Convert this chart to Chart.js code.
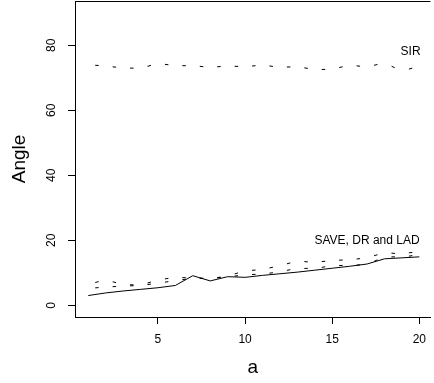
<!DOCTYPE html>
<html>
<head>
<meta charset="utf-8">
<script src="https://cdn.jsdelivr.net/npm/chart.js@4"></script>
<style>
  html, body { margin: 0; padding: 0; background: #ffffff; }
  #wrap { width: 434px; height: 383px; }
</style>
</head>
<body>
<div id="wrap"><canvas id="c" width="434" height="383"></canvas></div>
<script>
// ---- data ----
const xValues = [1,2,3,4,5,6,7,8,9,10,11,12,13,14,15,16,17,18,19,20];
const saveValues = [3.0,3.8,4.4,4.9,5.4,6.1,9.1,7.5,8.8,8.6,9.2,9.7,10.2,10.8,11.4,12.0,12.7,14.3,14.6,14.9];
const drValues   = [6.5,7.8,6.4,6.2,7.8,8.6,8.4,8.2,9.0,10.6,11.0,12.2,13.6,13.2,13.8,14.0,14.6,16.2,15.8,16.6];
const ladValues  = [5.2,5.6,5.9,6.1,6.8,7.6,8.3,8.3,8.7,9.4,9.6,10.3,11.4,11.3,12.2,12.3,12.5,15.0,14.8,15.6];
const sirValues  = [74.0,73.6,73.0,72.9,74.4,73.7,73.7,73.2,73.6,73.4,73.9,73.2,73.4,72.5,72.6,73.9,73.3,74.6,72.0,73.6];
const xTicks = [5,10,15,20];
const yTicks = [0,20,40,60,80];
const textLabels = ["SIR", "SAVE, DR and LAD"];
const textX = [19.5, 17];
const textY = [78, 20];

// ---- helpers ----
const DASH = 3.5;
function midOffset(ctx) {
  const L = Math.hypot(ctx.p1.x - ctx.p0.x, ctx.p1.y - ctx.p0.y);
  return -(L / 2 - DASH / 2) - ctx.p0DataIndex * 1e-4;
}
function toPts(arr) { return arr.map((v, i) => ({x: xValues[i], y: v})); }
function dashedSet(label, arr) {
  return {
    label, data: toPts(arr), borderColor: '#000', borderWidth: 1, pointRadius: 0,
    segment: { borderDash: () => [DASH, 2000], borderDashOffset: midOffset }
  };
}

const FONT = "'Liberation Sans', Arial, Helvetica, sans-serif";

const extras = {
  id: 'extras',
  afterDraw(chart) {
    const {ctx, chartArea, scales} = chart;
    ctx.save();
    // top line of the box
    ctx.strokeStyle = '#000';
    ctx.lineWidth = 1;
    ctx.beginPath();
    ctx.moveTo(chartArea.left, Math.round(chartArea.top) + 0.5);
    ctx.lineTo(chartArea.right, Math.round(chartArea.top) + 0.5);
    ctx.stroke();
    // y tick labels (rotated, R style)
    ctx.fillStyle = '#000';
    ctx.font = '12px ' + FONT;
    ctx.textAlign = 'center';
    ctx.textBaseline = 'middle';
    yTicks.forEach(v => {
      const y = scales.y.getPixelForValue(v);
      ctx.save();
      ctx.translate(52, y);
      ctx.rotate(-Math.PI / 2);
      ctx.fillText(String(v), 0, 0);
      ctx.restore();
    });
    // in-plot text labels
    textLabels.forEach((t, i) => {
      ctx.fillText(t, scales.x.getPixelForValue(textX[i]), scales.y.getPixelForValue(textY[i]));
    });
    ctx.restore();
  }
};

new Chart(document.getElementById('c'), {
  type: 'line',
  data: {
    datasets: [
      { label: 'SAVE', data: toPts(saveValues), borderColor: '#000', borderWidth: 1, pointRadius: 0 },
      dashedSet('DR', drValues),
      dashedSet('LAD', ladValues),
      dashedSet('SIR', sirValues)
    ]
  },
  options: {
    responsive: false,
    animation: false,
    layout: { padding: { top: 1, right: 0, left: 0, bottom: 0 } },
    plugins: { legend: { display: false }, tooltip: { enabled: false } },
    scales: {
      x: {
        type: 'linear', min: 0.24, max: 20.64,
        afterBuildTicks: s => { s.ticks = xTicks.map(v => ({value: v})); },
        afterFit: s => { s.height = 66; },
        grid: { drawOnChartArea: false, drawTicks: true, tickLength: 7, tickColor: '#000', tickWidth: 1 },
        border: { display: true, color: '#000', width: 1 },
        ticks: { color: '#000', font: { size: 12, family: FONT }, padding: 8, maxRotation: 0, autoSkip: false },
        title: { display: true, text: 'a', color: '#000', font: { size: 19, family: FONT }, padding: { top: 0, bottom: 4 } }
      },
      y: {
        type: 'linear', min: -3.6, max: 93.6,
        afterBuildTicks: s => { s.ticks = yTicks.map(v => ({value: v})); },
        afterFit: s => { s.width = 75; },
        grid: { drawOnChartArea: false, drawTicks: true, tickLength: 7, tickColor: '#000', tickWidth: 1 },
        border: { display: true, color: '#000', width: 1 },
        ticks: { display: false },
        title: { display: true, text: 'Angle', color: '#000', font: { size: 19, family: FONT }, padding: { top: 8, bottom: 0 } }
      }
    }
  },
  plugins: [extras]
});
</script>
</body>
</html>
